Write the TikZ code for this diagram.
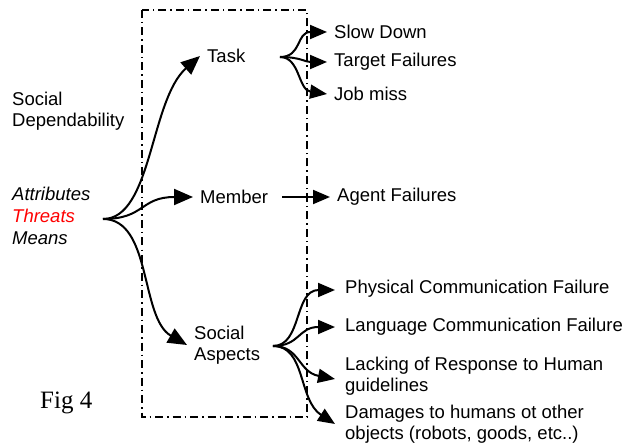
\documentclass[tikz,border=0pt]{standalone}
\usepackage{fontspec}
\usepackage{tikz}
\usetikzlibrary{arrows.meta}
\newfontfamily\arialfont{Liberation Sans}
\newfontfamily\timesfont{Liberation Serif}
\begin{document}
\begin{tikzpicture}[x=1pt,y=-1pt,
  lbl/.style={anchor=west,inner xsep=7pt,inner ysep=1pt,align=left,
    font=\arialfont\fontsize{18.5}{21.5}\selectfont},
  arr/.style={line width=2pt,-{Triangle[length=19pt,width=16pt]}},
  farr/.style={line width=2pt,-{Triangle[length=17pt,width=14pt]}},
  frame/.style={line width=1.4pt,dash pattern=on 8pt off 4pt on 1.5pt off 4pt}]
\useasboundingbox (0,0) rectangle (639,446);
\draw[frame] (142,10) rectangle (307,417);
\node[lbl,inner xsep=0pt] (socdep) at (12,111) {Social\\Dependability};
\node[lbl,inner xsep=0pt,font=\arialfont\itshape\fontsize{18.5}{22}\selectfont] (atm) at (12,216)
  {Attributes\\\textcolor{red}{Threats}\\Means};
\coordinate (atmfork) at (103,219);
\node[lbl] (task) at (200,56) {Task};
\node[lbl] (member) at (193,197) {Member};
\node[lbl] (social) at (187,345) {Social\\Aspects};
\draw[arr] (atmfork) .. controls (152,219) and (150,100) .. (task.west);
\draw[arr] (atmfork) .. controls (145,219) and (140,197) .. (member.west);
\draw[arr] (atmfork) .. controls (152,219) and (140,318) .. (social.west);
\coordinate (taskfork) at (280,57);
\node[lbl] (slow) at (327,32) {Slow Down};
\node[lbl] (target) at (327,62) {Target Failures};
\node[lbl] (job) at (327,94) {Job miss};
\draw[farr] (taskfork) .. controls (302,57) and (296,32) .. (slow.west);
\draw[farr] (taskfork) .. controls (300,57) and (305,62) .. (target.west);
\draw[farr] (taskfork) .. controls (300,57) and (298,90) .. (job.west);
\coordinate (memberfork) at (282,197);
\node[lbl] (agent) at (330,197) {Agent Failures};
\draw[farr] (memberfork) -- (agent.west);
\coordinate (socialfork) at (273,346);
\node[lbl,inner xsep=10pt] (phys) at (335,289) {Physical Communication Failure};
\node[lbl,inner xsep=10pt] (lang) at (335,327) {Language Communication Failure};
\node[lbl,inner xsep=10pt] (lack) at (335,376) {Lacking of Response to Human\\guidelines};
\node[lbl,inner xsep=10pt] (damage) at (335,424) {Damages to humans ot other\\objects (robots, goods, etc..)};
\draw[farr] (socialfork) .. controls (302,346) and (294,290) .. ([yshift=-1pt]phys.west);
\draw[farr] (socialfork) .. controls (300,346) and (298,327) .. (lang.west);
\draw[farr] (socialfork) .. controls (300,346) and (298,372) .. ([yshift=-3pt]lack.west);
\draw[farr] (socialfork) .. controls (306,346) and (298,400) .. (damage.west);
\node[anchor=west,inner sep=0pt,font=\timesfont\fontsize{25}{28}\selectfont] (fig) at (40,403) {Fig 4};
\end{tikzpicture}
\end{document}
